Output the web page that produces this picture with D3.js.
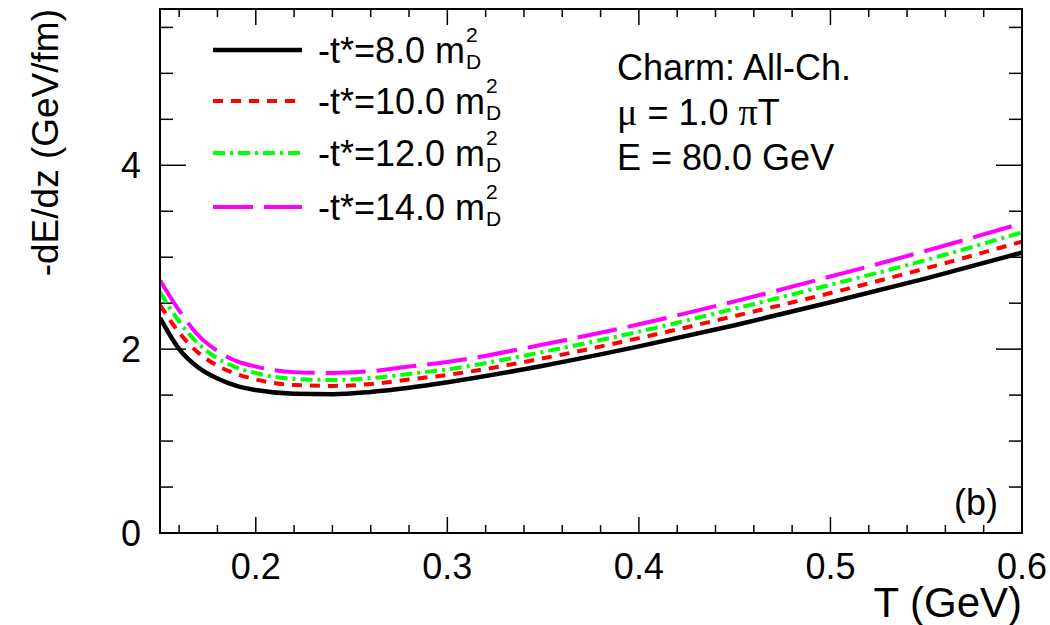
<!DOCTYPE html>
<html>
<head>
<meta charset="utf-8">
<script src="https://cdn.jsdelivr.net/npm/d3@7"></script>
<style>
  body { margin: 0; background: #fff; }
  svg { font-family: "Liberation Sans", Arial, sans-serif; }
</style>
</head>
<body>
<svg id="chart" width="1050" height="625"></svg>
<script>
// temperature samples (GeV)
const tValues = [0.15, 0.16, 0.17, 0.18, 0.19, 0.20, 0.22, 0.24, 0.26, 0.28, 0.30, 0.35, 0.40, 0.45, 0.50, 0.55, 0.60];

// -dE/dz (GeV/fm) for each -t* cut
const tStar8  = [2.34, 2.00, 1.80, 1.68, 1.60, 1.555, 1.515, 1.51, 1.535, 1.58, 1.64, 1.82, 2.03, 2.26, 2.51, 2.77, 3.05];
const tStar10 = [2.48, 2.18, 1.96, 1.82, 1.73, 1.67, 1.61, 1.60, 1.62, 1.67, 1.72, 1.90, 2.12, 2.36, 2.61, 2.88, 3.17];
const tStar12 = [2.62, 2.30, 2.06, 1.90, 1.80, 1.74, 1.675, 1.665, 1.685, 1.73, 1.78, 1.97, 2.19, 2.44, 2.70, 2.97, 3.27];
const tStar14 = [2.75, 2.42, 2.15, 1.98, 1.87, 1.81, 1.75, 1.74, 1.76, 1.81, 1.86, 2.05, 2.27, 2.52, 2.79, 3.07, 3.37];

const legendLabels = ["-t*=8.0 m", "-t*=10.0 m", "-t*=12.0 m", "-t*=14.0 m"];
const xTickLabels = [0.2, 0.3, 0.4, 0.5, 0.6];
const yTickLabels = [0, 2, 4];

const series = [
    { label: legendLabels[0], values: tStar8,  color: "#000000", dash: null, width: 4.5 },
    { label: legendLabels[1], values: tStar10, color: "#ff0000", dash: "10,8", width: 4 },
    { label: legendLabels[2], values: tStar12, color: "#00ff00", dash: "12,5,3,5", width: 4 },
    { label: legendLabels[3], values: tStar14, color: "#ff00ff", dash: "40,11", width: 4 }
];

const svg = d3.select("#chart");

const frame = { left: 160, right: 1022, top: 9, bottom: 533 };

const x = d3.scaleLinear().domain([0.15, 0.6]).range([frame.left, frame.right]);
const y = d3.scaleLinear().domain([0, 5.7]).range([frame.bottom, frame.top]);

// clip to frame
svg.append("defs").append("clipPath").attr("id", "clip")
    .append("rect")
    .attr("x", frame.left).attr("y", frame.top)
    .attr("width", frame.right - frame.left)
    .attr("height", frame.bottom - frame.top);

// ticks on all four sides, pointing inward (ROOT style)
const xMinor = d3.range(0.16, 0.6001, 0.02);
const yMinor = d3.range(0, 5.7, 0.5);
const xMajorLen = 16, xMinorLen = 8, yMajorLen = 26, yMinorLen = 13;

const isMajorX = v => Math.abs(v * 10 - Math.round(v * 10)) < 1e-6;
const isMajorY = v => Math.abs(v / 2 - Math.round(v / 2)) < 1e-6;

const ticks = svg.append("g").attr("stroke", "#000").attr("stroke-width", 1.5);

ticks.selectAll("line.xb").data(xMinor).join("line")
    .attr("x1", d => x(d)).attr("x2", d => x(d))
    .attr("y1", frame.bottom)
    .attr("y2", d => frame.bottom - (isMajorX(d) ? xMajorLen : xMinorLen));

ticks.selectAll("line.xt").data(xMinor).join("line")
    .attr("class", "xt")
    .attr("x1", d => x(d)).attr("x2", d => x(d))
    .attr("y1", frame.top)
    .attr("y2", d => frame.top + (isMajorX(d) ? xMajorLen : xMinorLen));

ticks.selectAll("line.yl").data(yMinor).join("line")
    .attr("class", "yl")
    .attr("y1", d => y(d)).attr("y2", d => y(d))
    .attr("x1", frame.left)
    .attr("x2", d => frame.left + (isMajorY(d) ? yMajorLen : yMinorLen));

ticks.selectAll("line.yr").data(yMinor).join("line")
    .attr("class", "yr")
    .attr("y1", d => y(d)).attr("y2", d => y(d))
    .attr("x1", frame.right)
    .attr("x2", d => frame.right - (isMajorY(d) ? yMajorLen : yMinorLen));

// tick labels
svg.append("g").selectAll("text").data(xTickLabels).join("text")
    .attr("x", d => x(d))
    .attr("y", 579)
    .attr("text-anchor", "middle")
    .attr("font-size", 36)
    .text(d => d3.format(".1f")(d));

svg.append("g").selectAll("text").data(yTickLabels).join("text")
    .attr("x", 141)
    .attr("y", d => y(d) + 13)
    .attr("text-anchor", "end")
    .attr("font-size", 36)
    .text(d => d);

// curves
const line = d3.line()
    .x((d, i) => x(tValues[i]))
    .y(d => y(d))
    .curve(d3.curveMonotoneX);

const curves = svg.append("g").attr("clip-path", "url(#clip)");
curves.selectAll("path").data(series.slice().reverse()).join("path")
    .attr("d", d => line(d.values))
    .attr("fill", "none")
    .attr("stroke", d => d.color)
    .attr("stroke-width", d => d.width)
    .attr("stroke-dasharray", d => d.dash);

// frame
svg.append("rect")
    .attr("x", frame.left).attr("y", frame.top)
    .attr("width", frame.right - frame.left)
    .attr("height", frame.bottom - frame.top)
    .attr("fill", "none")
    .attr("stroke", "#000")
    .attr("stroke-width", 2);

// axis titles
svg.append("text")
    .attr("x", frame.right)
    .attr("y", 617)
    .attr("text-anchor", "end")
    .attr("font-size", 42)
    .text("T (GeV)");

svg.append("text")
    .attr("transform", `translate(58,${frame.top}) rotate(-90)`)
    .attr("text-anchor", "end")
    .attr("font-size", 37)
    .text("-dE/dz (GeV/fm)");

// legend
const legendY = [50, 101, 153, 207];
const legend = svg.append("g");
series.forEach((s, i) => {
    const ly = legendY[i];
    legend.append("line")
        .attr("x1", 213).attr("x2", 302)
        .attr("y1", ly).attr("y2", ly)
        .attr("stroke", s.color)
        .attr("stroke-width", s.width)
        .attr("stroke-dasharray", s.dash);
    const t = legend.append("text")
        .attr("x", 318).attr("y", ly + 13)
        .attr("font-size", 36)
        .text(s.label);
    const w = t.node().getComputedTextLength();
    legend.append("text")
        .attr("x", 318 + w + 1).attr("y", ly - 8)
        .attr("font-size", 21)
        .text("2");
    legend.append("text")
        .attr("x", 318 + w + 1).attr("y", ly + 19)
        .attr("font-size", 21)
        .text("D");
});

// info text
const info = svg.append("g").attr("font-size", 36);
info.append("text").attr("x", 617).attr("y", 80).text("Charm: All-Ch.");
const mu = info.append("text").attr("x", 617).attr("y", 125);
mu.append("tspan").attr("font-family", "'Liberation Serif', serif").attr("font-size", 38).text("\u03bc");
mu.append("tspan").text(" = 1.0 ");
mu.append("tspan").attr("font-family", "'Liberation Serif', serif").attr("font-size", 38).text("\u03c0");
mu.append("tspan").text("T");
info.append("text").attr("x", 617).attr("y", 170).text("E = 80.0 GeV");

svg.append("text")
    .attr("x", 998).attr("y", 515)
    .attr("text-anchor", "end")
    .attr("font-size", 36)
    .text("(b)");
</script>
</body>
</html>
